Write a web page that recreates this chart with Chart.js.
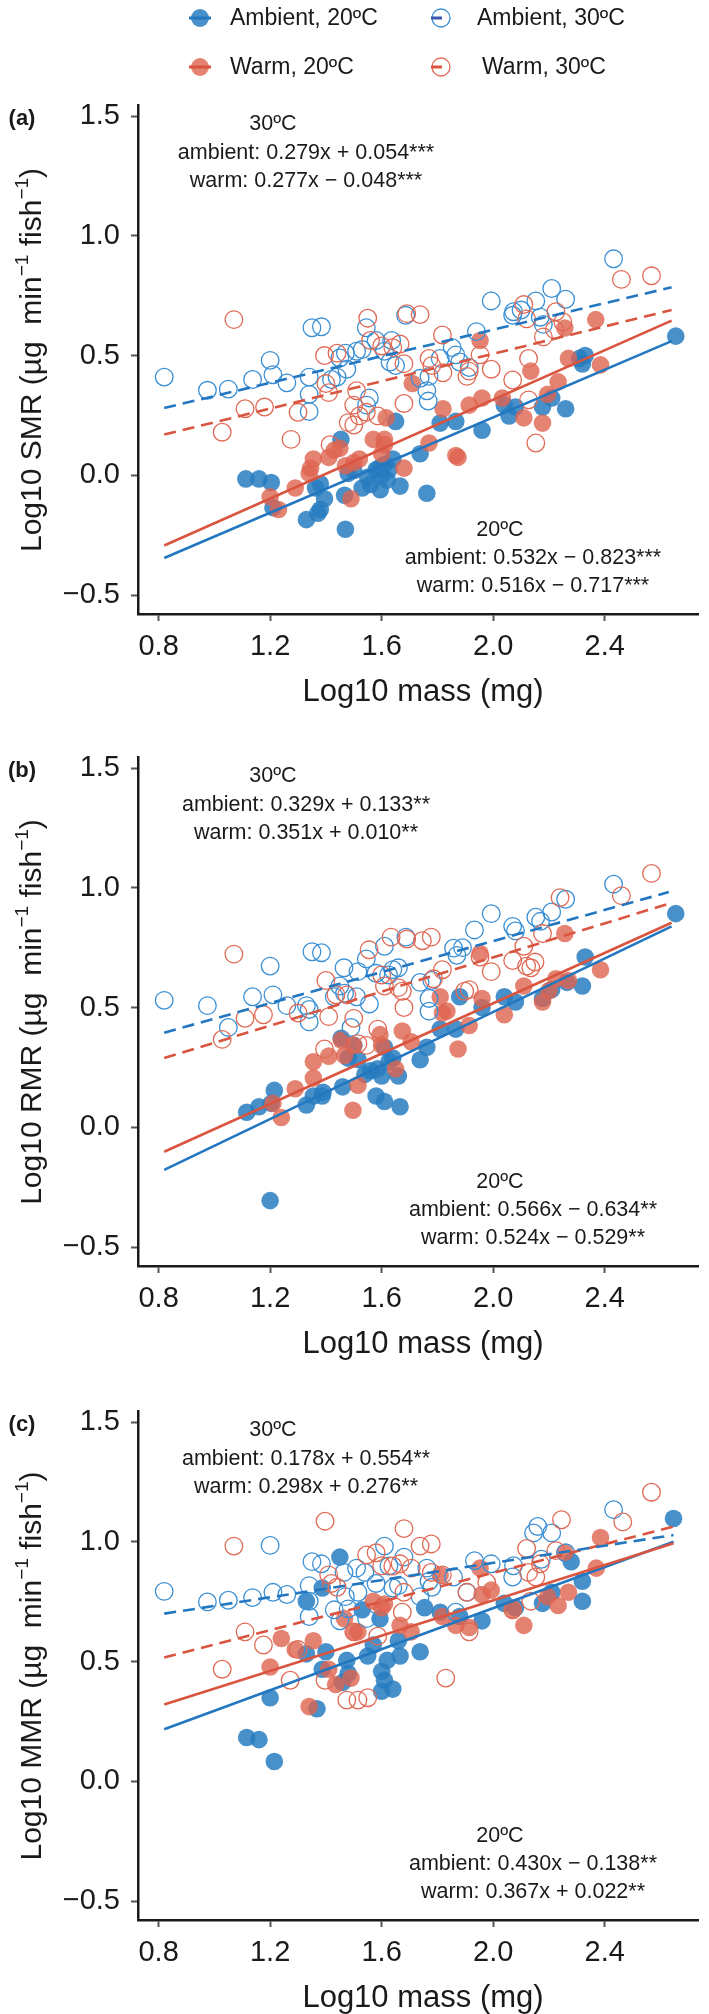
<!DOCTYPE html>
<html>
<head>
<meta charset="utf-8">
<script src="https://cdn.jsdelivr.net/npm/chart.js@4/dist/chart.umd.min.js"></script>
<style>
  html, body { margin: 0; padding: 0; background: #fff; }
  body { width: 709px; height: 2014px; position: relative; overflow: hidden; }
  canvas { position: absolute; left: 0; }
</style>
</head>
<body>
<canvas id="panelA" width="709" height="720" style="top:0px;width:709px;height:720px"></canvas>
<canvas id="panelB" width="709" height="652" style="top:720px;width:709px;height:652px"></canvas>
<canvas id="panelC" width="709" height="642" style="top:1372px;width:709px;height:642px"></canvas>
<script>
// axes
const xTicks = [0.8, 1.2, 1.6, 2.0, 2.4];
const yTicks = [-0.5, 0.0, 0.5, 1.0, 1.5];
const legendLabels = ['Ambient, 20ºC', 'Ambient, 30ºC', 'Warm, 20ºC', 'Warm, 30ºC'];

// (a) SMR  [log10 mass, log10 rate]
const smrAmbient20 = [[1.113,-0.015],[1.16,-0.015],[1.204,-0.03],[1.21,-0.135],[1.33,-0.185],[1.371,-0.158],[1.38,-0.143],[1.395,-0.098],[1.363,-0.053],[1.38,-0.035],[1.454,0.15],[1.47,-0.225],[1.467,-0.083],[1.48,0.008],[1.50,0.02],[1.53,-0.053],[1.55,-0.008],[1.56,-0.038],[1.58,0.023],[1.59,0.03],[1.595,-0.06],[1.60,0.0],[1.61,0.045],[1.62,-0.02],[1.626,0.023],[1.64,0.068],[1.65,0.225],[1.666,-0.045],[1.738,0.09],[1.762,-0.075],[1.81,0.218],[1.866,0.225],[1.96,0.188],[2.04,0.293],[2.057,0.248],[2.08,0.285],[2.177,0.285],[2.21,0.323],[2.26,0.278],[2.31,0.488],[2.32,0.465],[2.33,0.50],[2.655,0.581]];
const smrAmbient30 = [[0.82,0.41],[0.975,0.355],[1.05,0.36],[1.137,0.40],[1.20,0.48],[1.21,0.42],[1.26,0.386],[1.35,0.616],[1.384,0.62],[1.34,0.41],[1.34,0.338],[1.34,0.266],[1.42,0.40],[1.44,0.41],[1.45,0.49],[1.47,0.51],[1.475,0.443],[1.51,0.518],[1.53,0.525],[1.545,0.616],[1.556,0.323],[1.546,0.293],[1.58,0.563],[1.61,0.518],[1.63,0.473],[1.636,0.563],[1.65,0.458],[1.686,0.668],[1.738,0.405],[1.762,0.353],[1.767,0.31],[1.77,0.413],[1.81,0.488],[1.853,0.533],[1.866,0.503],[1.88,0.473],[1.914,0.45],[1.94,0.60],[1.993,0.728],[2.073,0.683],[2.07,0.668],[2.10,0.69],[2.153,0.728],[2.169,0.66],[2.18,0.63],[2.21,0.78],[2.26,0.735],[2.432,0.904]];
const smrWarm20 = [[1.20,-0.09],[1.23,-0.143],[1.29,-0.053],[1.34,0.008],[1.355,0.068],[1.345,0.03],[1.41,0.075],[1.43,0.105],[1.45,0.113],[1.47,0.04],[1.50,0.053],[1.49,-0.098],[1.52,0.068],[1.57,0.15],[1.61,0.15],[1.61,0.128],[1.60,0.09],[1.616,0.24],[1.68,0.03],[1.71,0.383],[1.77,0.135],[1.82,0.278],[1.866,0.083],[1.874,0.075],[1.914,0.293],[1.953,0.563],[1.96,0.323],[2.033,0.323],[2.11,0.24],[2.135,0.435],[2.177,0.218],[2.195,0.338],[2.233,0.39],[2.257,0.615],[2.27,0.488],[2.368,0.65],[2.385,0.461]];
const smrWarm30 = [[1.07,0.65],[1.028,0.18],[1.11,0.278],[1.18,0.285],[1.275,0.15],[1.30,0.263],[1.395,0.50],[1.40,0.383],[1.41,0.345],[1.415,0.128],[1.44,0.51],[1.48,0.22],[1.50,0.21],[1.50,0.293],[1.51,0.353],[1.52,0.248],[1.545,0.263],[1.55,0.656],[1.56,0.563],[1.586,0.248],[1.60,0.54],[1.64,0.533],[1.666,0.548],[1.68,0.466],[1.69,0.675],[1.738,0.671],[1.68,0.30],[1.77,0.488],[1.78,0.458],[1.818,0.586],[1.82,0.428],[1.906,0.413],[1.914,0.435],[1.953,0.503],[1.993,0.443],[2.07,0.398],[2.11,0.713],[2.12,0.653],[2.127,0.488],[2.127,0.315],[2.153,0.135],[2.18,0.578],[2.225,0.683],[2.22,0.608],[2.25,0.64],[2.46,0.818],[2.568,0.833]];
// fitted lines, end points: ambient20, ambient30, warm20, warm30
const smrFits = [[[0.82,-0.345],[2.64,0.56]], [[0.82,0.281],[2.64,0.785]], [[0.82,-0.293],[2.64,0.646]], [[0.82,0.17],[2.64,0.69]]];
const smrEquations = ['ambient: 0.279x + 0.054***', 'warm: 0.277x − 0.048***', 'ambient: 0.532x − 0.823***', 'warm: 0.516x − 0.717***'];

// (b) RMR
const rmrAmbient20 = [[1.116,0.063],[1.16,0.086],[1.204,0.10],[1.215,0.154],[1.20,-0.306],[1.33,0.093],[1.355,0.131],[1.387,0.131],[1.39,0.146],[1.455,0.372],[1.46,0.169],[1.48,0.289],[1.50,0.342],[1.515,0.283],[1.54,0.221],[1.56,0.236],[1.58,0.131],[1.585,0.244],[1.60,0.214],[1.61,0.334],[1.61,0.108],[1.626,0.274],[1.64,0.289],[1.66,0.214],[1.666,0.086],[1.738,0.282],[1.762,0.334],[1.81,0.41],[1.866,0.41],[1.88,0.545],[1.96,0.50],[2.04,0.545],[2.08,0.523],[2.177,0.538],[2.21,0.575],[2.265,0.605],[2.32,0.59],[2.33,0.711],[2.655,0.892]];
const rmrAmbient30 = [[0.82,0.53],[0.975,0.508],[1.05,0.417],[1.137,0.545],[1.20,0.673],[1.21,0.553],[1.26,0.508],[1.33,0.508],[1.34,0.492],[1.34,0.44],[1.35,0.733],[1.384,0.729],[1.43,0.545],[1.45,0.59],[1.465,0.666],[1.467,0.56],[1.49,0.417],[1.51,0.545],[1.515,0.65],[1.545,0.703],[1.556,0.515],[1.58,0.643],[1.61,0.756],[1.625,0.636],[1.64,0.658],[1.66,0.666],[1.687,0.794],[1.738,0.605],[1.77,0.485],[1.77,0.538],[1.78,0.613],[1.858,0.748],[1.87,0.718],[1.89,0.75],[1.933,0.824],[1.993,0.892],[2.07,0.839],[2.08,0.82],[2.153,0.877],[2.17,0.86],[2.21,0.899],[2.26,0.952],[2.432,1.015]];
const rmrWarm20 = [[1.24,0.041],[1.21,0.10],[1.29,0.161],[1.355,0.274],[1.355,0.206],[1.41,0.297],[1.455,0.364],[1.467,0.30],[1.50,0.342],[1.497,0.071],[1.515,0.176],[1.594,0.387],[1.60,0.342],[1.65,0.244],[1.674,0.402],[1.706,0.357],[1.81,0.545],[1.818,0.477],[1.834,0.485],[1.874,0.327],[1.914,0.425],[1.953,0.726],[1.96,0.538],[2.04,0.47],[2.11,0.59],[2.177,0.523],[2.20,0.57],[2.225,0.62],[2.257,0.809],[2.27,0.613],[2.385,0.658]];
const rmrWarm30 = [[1.07,0.723],[1.028,0.367],[1.11,0.455],[1.176,0.47],[1.30,0.477],[1.395,0.327],[1.40,0.613],[1.41,0.462],[1.436,0.553],[1.475,0.553],[1.50,0.455],[1.515,0.349],[1.545,0.342],[1.555,0.741],[1.586,0.41],[1.60,0.636],[1.61,0.59],[1.634,0.794],[1.66,0.583],[1.674,0.568],[1.68,0.50],[1.69,0.786],[1.746,0.779],[1.778,0.794],[1.786,0.62],[1.818,0.658],[1.898,0.568],[1.914,0.575],[1.953,0.711],[1.993,0.65],[2.07,0.696],[2.11,0.756],[2.12,0.673],[2.135,0.666],[2.15,0.69],[2.177,0.809],[2.24,0.959],[2.46,0.967],[2.568,1.06]];
const rmrFits = [[[0.82,-0.178],[2.64,0.839]], [[0.82,0.395],[2.63,0.982]], [[0.82,-0.102],[2.64,0.854]], [[0.82,0.289],[2.64,0.937]]];
const rmrEquations = ['ambient: 0.329x + 0.133**', 'warm: 0.351x + 0.010**', 'ambient: 0.566x − 0.634**', 'warm: 0.524x − 0.529**'];

// (c) MMR
const mmrAmbient20 = [[1.116,0.183],[1.16,0.174],[1.215,0.083],[1.20,0.349],[1.33,0.532],[1.33,0.752],[1.368,0.303],[1.387,0.468],[1.40,0.541],[1.387,0.807],[1.45,0.936],[1.46,0.413],[1.475,0.505],[1.48,0.45],[1.53,0.716],[1.55,0.523],[1.57,0.569],[1.594,0.679],[1.60,0.459],[1.60,0.376],[1.61,0.422],[1.62,0.505],[1.64,0.385],[1.66,0.587],[1.666,0.523],[1.738,0.541],[1.754,0.725],[1.81,0.706],[1.88,0.688],[1.96,0.67],[2.04,0.743],[2.08,0.725],[2.177,0.743],[2.21,0.789],[2.28,0.917],[2.32,0.835],[2.32,0.752],[2.647,1.097]];
const mmrAmbient30 = [[0.82,0.793],[0.975,0.749],[1.05,0.756],[1.137,0.767],[1.20,0.985],[1.21,0.789],[1.26,0.78],[1.34,0.817],[1.34,0.752],[1.34,0.688],[1.35,0.917],[1.384,0.908],[1.43,0.716],[1.45,0.67],[1.465,0.872],[1.47,0.771],[1.48,0.72],[1.51,0.89],[1.515,0.789],[1.54,0.872],[1.546,0.679],[1.58,0.826],[1.61,0.982],[1.626,0.899],[1.64,0.807],[1.66,0.817],[1.68,0.936],[1.738,0.771],[1.762,0.89],[1.77,0.835],[1.78,0.81],[1.858,0.853],[1.866,0.706],[1.906,0.789],[1.933,0.921],[1.993,0.908],[2.07,0.853],[2.073,0.90],[2.145,1.037],[2.16,1.064],[2.173,0.927],[2.21,1.037],[2.26,0.954],[2.432,1.134]];
const mmrWarm20 = [[1.20,0.477],[1.24,0.596],[1.29,0.55],[1.34,0.312],[1.355,0.587],[1.41,0.468],[1.435,0.404],[1.467,0.679],[1.49,0.431],[1.50,0.624],[1.515,0.624],[1.57,0.752],[1.60,0.725],[1.61,0.74],[1.666,0.651],[1.706,0.624],[1.81,0.862],[1.818,0.688],[1.866,0.651],[1.914,0.642],[1.953,0.89],[1.96,0.78],[1.993,0.798],[2.07,0.716],[2.11,0.651],[2.195,0.771],[2.233,0.734],[2.257,0.954],[2.27,0.789],[2.37,0.89],[2.385,1.018]];
const mmrWarm30 = [[1.07,0.982],[1.028,0.468],[1.11,0.624],[1.176,0.569],[1.272,0.422],[1.30,0.55],[1.397,1.086],[1.41,0.862],[1.42,0.826],[1.397,0.422],[1.44,0.81],[1.475,0.339],[1.515,0.339],[1.55,0.349],[1.50,0.624],[1.546,0.945],[1.58,0.954],[1.586,0.606],[1.60,0.90],[1.64,0.899],[1.666,0.908],[1.68,1.055],[1.68,0.789],[1.674,0.706],[1.706,0.89],[1.738,0.982],[1.778,0.991],[1.778,0.872],[1.83,0.431],[1.818,0.862],[1.906,0.789],[1.914,0.624],[1.977,0.83],[2.07,0.716],[2.12,0.972],[2.127,0.872],[2.135,0.752],[2.153,0.853],[2.169,0.908],[2.225,0.963],[2.245,1.092],[2.465,1.083],[2.568,1.207]];
const mmrFits = [[[0.82,0.217],[2.647,1.0]], [[0.82,0.70],[2.647,1.028]], [[0.82,0.321],[2.647,0.994]], [[0.82,0.517],[2.647,1.064]]];
const mmrEquations = ['ambient: 0.178x + 0.554**', 'warm: 0.298x + 0.276**', 'ambient: 0.430x − 0.138**', 'warm: 0.367x + 0.022**'];

const FONT = '"Liberation Sans", Arial, Helvetica, sans-serif';
const INK = '#1a1a1a';
const BLUE_PT = 'rgba(40,124,192,0.85)', BLUE_LINE = '#2277c0', BLUE_OPEN = '#3a8fd4';
const RED_PT = 'rgba(222,100,80,0.8)', RED_LINE = '#d9553f', RED_OPEN = '#e06a55';
const R = 8.8;

const toXY = arr => arr.map(([x, y]) => ({ x, y }));

function drawYTitle(ctx, name, cx, cy) {
    const parts = [['Log10 ' + name + ' (µg  min', 0], ['−1', 1], [' fish', 0], ['−1', 1], [')', 0]];
    const big = '30px ' + FONT, small = '19px ' + FONT;
    ctx.save();
    ctx.translate(cx, cy);
    ctx.rotate(-Math.PI / 2);
    let total = 0;
    parts.forEach(p => { ctx.font = p[1] ? small : big; total += ctx.measureText(p[0]).width; });
    let x = -total / 2;
    ctx.fillStyle = INK;
    ctx.textAlign = 'left';
    ctx.textBaseline = 'alphabetic';
    parts.forEach(p => {
        ctx.font = p[1] ? small : big;
        ctx.fillText(p[0], x, p[1] ? -13 : 0);
        x += ctx.measureText(p[0]).width;
    });
    ctx.restore();
}

function drawLegend(ctx) {
    const items = [
        { x: 200, y: 18, tx: 230, fill: BLUE_PT, line: BLUE_LINE, open: false },
        { x: 441, y: 18, tx: 477, fill: BLUE_OPEN, line: '#3a55b0', open: true },
        { x: 200, y: 67, tx: 230, fill: RED_PT, line: RED_LINE, open: false },
        { x: 441, y: 67, tx: 482, fill: RED_OPEN, line: RED_LINE, open: true }
    ];
    items.forEach((it, i) => {
        ctx.beginPath();
        ctx.arc(it.x, it.y, 9, 0, Math.PI * 2);
        if (it.open) { ctx.strokeStyle = it.fill; ctx.lineWidth = 1.3; ctx.stroke(); }
        else { ctx.fillStyle = it.fill; ctx.fill(); }
        ctx.beginPath();
        ctx.strokeStyle = it.line;
        ctx.lineWidth = 3;
        if (it.open) { ctx.moveTo(it.x - 10, it.y); ctx.lineTo(it.x + 1, it.y); }
        else { ctx.moveTo(it.x - 11, it.y); ctx.lineTo(it.x + 11, it.y); }
        ctx.stroke();
        ctx.fillStyle = INK;
        ctx.font = '23px ' + FONT;
        ctx.textAlign = 'left';
        ctx.textBaseline = 'middle';
        ctx.fillText(legendLabels[i], it.tx, it.y + 1);
    });
}

const textPlugin = {
    id: 'panelTexts',
    afterDraw(chart) {
        const o = chart.options.plugins.panelTexts;
        const ctx = chart.ctx;
        const d = o.dy;
        ctx.save();
        if (o.legend) drawLegend(ctx);
        ctx.fillStyle = INK;
        ctx.textBaseline = 'middle';
        ctx.textAlign = 'center';
        ctx.font = 'bold 22px ' + FONT;
        ctx.fillText(o.letter, 22, 119 + d);
        ctx.font = '21.5px ' + FONT;
        ctx.fillText('30ºC', 273, 124 + d);
        ctx.fillText(o.eqs[0], 306, 153 + d);
        ctx.fillText(o.eqs[1], 306, 181 + d);
        ctx.fillText('20ºC', 500, 530 + d);
        ctx.fillText(o.eqs[2], 533, 558 + d);
        ctx.fillText(o.eqs[3], 533, 586 + d);
        ctx.font = '31px ' + FONT;
        ctx.fillText('Log10 mass (mg)', 423, 692 + d);
        drawYTitle(ctx, o.yName, 41, 360 + d);
        ctx.restore();
    }
};

function makePanel(id, canvasTop, canvasH, offset, letter, yName, a20, a30, w20, w30, fits, eqs) {
    const d = offset - canvasTop;
    const plotTop = 105 + d, plotBottom = 614 + d;
    const pts = (data, color, open) => ({
        data: toXY(data), order: 2,
        pointRadius: R, pointHoverRadius: R,
        pointBackgroundColor: open ? 'rgba(0,0,0,0)' : color,
        pointBorderColor: color, pointBorderWidth: open ? 1.3 : 0
    });
    const line = (data, color, dashed) => ({
        data: toXY(data), order: 1, showLine: true, pointRadius: 0,
        borderColor: color, borderWidth: 2.6, borderDash: dashed ? [12, 7] : []
    });
    const tickStyle = { font: { family: FONT, size: 29 }, color: INK };
    new Chart(document.getElementById(id), {
        type: 'scatter',
        data: {
            datasets: [
                pts(w30, RED_OPEN, true), pts(a30, BLUE_OPEN, true),
                pts(w20, RED_PT, false), pts(a20, BLUE_PT, false),
                line(fits[1], BLUE_LINE, true), line(fits[3], RED_LINE, true),
                line(fits[2], RED_LINE, false), line(fits[0], BLUE_LINE, false)
            ]
        },
        options: {
            responsive: false, animation: false, events: [],
            layout: { padding: { top: plotTop, left: 0, right: 0, bottom: 0 } },
            plugins: {
                legend: { display: false }, tooltip: { enabled: false },
                panelTexts: { dy: d, letter, yName, eqs, legend: id === 'panelA' }
            },
            scales: {
                x: {
                    type: 'linear', min: 0.726, max: 2.738,
                    afterBuildTicks: s => { s.ticks = xTicks.map(v => ({ value: v })); },
                    afterFit: s => { s.height = canvasH - plotBottom; },
                    ticks: Object.assign({ padding: 9, callback: v => v.toFixed(1) }, tickStyle),
                    grid: { drawOnChartArea: false, tickLength: 7, tickWidth: 2, tickColor: '#555' },
                    border: { color: INK, width: 2.5 }
                },
                y: {
                    type: 'linear', min: -0.579, max: 1.546,
                    afterBuildTicks: s => { s.ticks = yTicks.map(v => ({ value: v })); },
                    afterFit: s => { s.width = 138; },
                    ticks: Object.assign({ padding: 11, callback: v => v.toFixed(1).replace('-', '−') }, tickStyle),
                    grid: { drawOnChartArea: false, tickLength: 7, tickWidth: 2, tickColor: '#555' },
                    border: { color: INK, width: 2.5 }
                }
            }
        },
        plugins: [textPlugin]
    });
}

makePanel('panelA', 0, 720, 0, '(a)', 'SMR', smrAmbient20, smrAmbient30, smrWarm20, smrWarm30, smrFits, smrEquations);
makePanel('panelB', 720, 652, 652, '(b)', 'RMR', rmrAmbient20, rmrAmbient30, rmrWarm20, rmrWarm30, rmrFits, rmrEquations);
makePanel('panelC', 1372, 642, 1306, '(c)', 'MMR', mmrAmbient20, mmrAmbient30, mmrWarm20, mmrWarm30, mmrFits, mmrEquations);
</script>
</body>
</html>
